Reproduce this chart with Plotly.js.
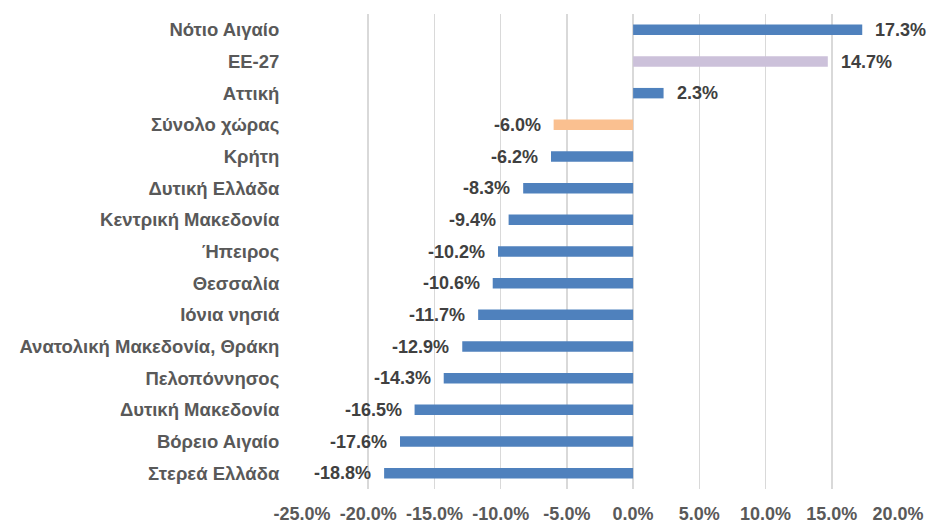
<!DOCTYPE html>
<html><head><meta charset="utf-8">
<script src="https://cdn.plot.ly/plotly-3.0.1.min.js"></script>
<style>html,body{margin:0;padding:0;background:#fff}#chart{width:933px;height:523px}</style>
</head><body><div id="chart"></div>
<script>
const categories = ["Νότιο Αιγαίο","ΕΕ-27","Αττική","Σύνολο χώρας","Κρήτη","Δυτική Ελλάδα","Κεντρική Μακεδονία","Ήπειρος","Θεσσαλία","Ιόνια νησιά","Ανατολική Μακεδονία, Θράκη","Πελοπόννησος","Δυτική Μακεδονία","Βόρειο Αιγαίο","Στερεά Ελλάδα"];
const values = [17.3,14.7,2.3,-6.0,-6.2,-8.3,-9.4,-10.2,-10.6,-11.7,-12.9,-14.3,-16.5,-17.6,-18.8];
const barColors = ["#4F81BD","#CCC1DA","#4F81BD","#FAC090","#4F81BD","#4F81BD","#4F81BD","#4F81BD","#4F81BD","#4F81BD","#4F81BD","#4F81BD","#4F81BD","#4F81BD","#4F81BD"];
const xTicks = [-25,-20,-15,-10,-5,0,5,10,15,20];

const font = "Liberation Sans, Arial, sans-serif";
const annotations = categories.map((c,i)=>({
  x: values[i], y: c, xref:'x', yref:'y',
  text: values[i].toFixed(1)+'%', showarrow:false,
  xanchor: values[i]>=0 ? 'left':'right',
  xshift: values[i]>=0 ? 11 : -11,
  font:{family:font, size:18, color:'#404040', weight:'bold'}
}));

Plotly.newPlot('chart',[{
  type:'bar', orientation:'h', x:values, y:categories,
  marker:{color:barColors}, width:0.33, hoverinfo:'none'
}],{
  width:933, height:523,
  margin:{l:302,r:35,t:14,b:34},
  paper_bgcolor:'#fff', plot_bgcolor:'#fff',
  showlegend:false,
  font:{family:font},
  xaxis:{range:[-25,20], tickvals:xTicks, ticktext:xTicks.map(v=>v.toFixed(1)+'%'),
    showgrid:true, gridcolor:'#D9D9D9', gridwidth:1.5,
    zeroline:true, zerolinecolor:'#D9D9D9', zerolinewidth:1.5,
    ticks:'outside', ticklen:8, tickcolor:'rgba(0,0,0,0)',
    tickfont:{family:font, size:18, color:'#595959', weight:'bold'}, fixedrange:true},
  yaxis:{autorange:'reversed', showgrid:false, zeroline:false,
    ticks:'outside', ticklen:18, tickcolor:'rgba(0,0,0,0)',
    tickfont:{family:font, size:18.5, color:'#595959', weight:'bold'}, fixedrange:true},
  annotations: annotations
},{displayModeBar:false, staticPlot:true});
</script></body></html>
